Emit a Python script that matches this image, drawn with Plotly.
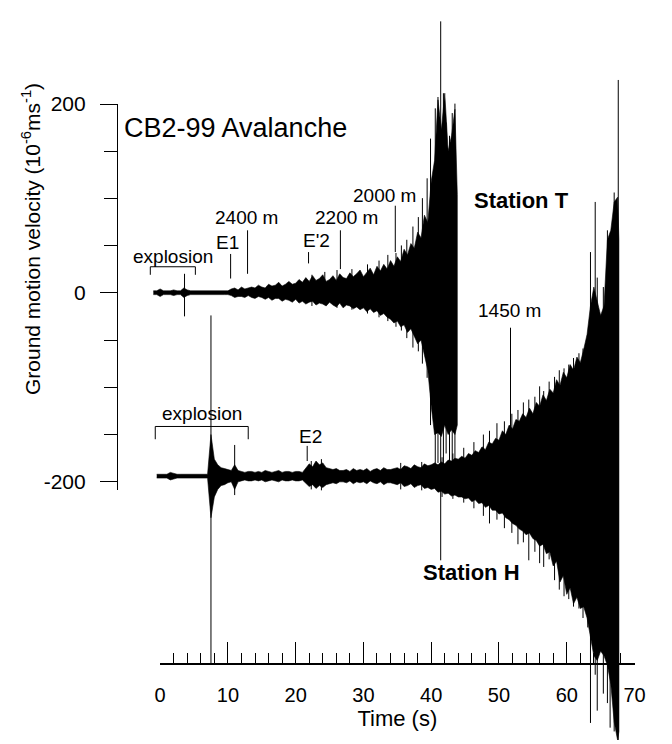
import numpy as np
import plotly.graph_objects as go

# ---------------- data ----------------
STATIONS = ["Station T", "Station H"]
STATION_OFFSETS = [0, -194]          # baseline of each trace, 10^-6 m/s

# Station T envelope (peak up / peak down), 0.5 s samples from -1.0 s to 43.5 s + last sample
T_TIME = np.round(np.arange(-1.0, 43.51, 0.5), 2).tolist() + [43.85]
T_UPPER = [2, 2, 4, 2, 2, 2, 3, 2, 2, 5,
           3, 2, 2, 2, 2, 2, 2, 2, 2, 2,
           2, 2, 2, 4, 5, 3, 6, 4, 5, 6,
           5, 8, 6, 5, 9, 7, 8, 11, 7, 9,
           12, 9, 10, 14, 11, 16, 12, 18, 13, 15,
           19, 12, 14, 18, 13, 20, 16, 15, 21, 17,
           20, 24, 17, 22, 26, 19, 28, 23, 30, 25,
           34, 28, 38, 33, 46, 40, 52, 47, 64, 58,
           82, 74, 118, 140, 204, 172, 211, 150, 166, 194,
           104]
T_LOWER = [-2, -2, -4, -2, -2, -2, -3, -2, -2, -5,
           -3, -2, -2, -2, -2, -2, -2, -2, -2, -2,
           -2, -2, -2, -3, -5, -4, -4, -5, -3, -5,
           -6, -4, -5, -7, -5, -8, -6, -6, -9, -7,
           -8, -10, -7, -11, -9, -12, -10, -9, -13, -11,
           -12, -14, -10, -13, -15, -11, -16, -13, -14, -17,
           -15, -18, -16, -20, -17, -21, -19, -24, -22, -26,
           -28, -32, -30, -36, -34, -42, -38, -46, -54, -50,
           -66, -82, -120, -150, -148, -152, -140, -150, -145, -150,
           -140]

# Station H envelope, 0.5 s samples from -0.5 s to 67.5 s + last sample
H_TIME = np.round(np.arange(-0.5, 67.51, 0.5), 2).tolist() + [67.7]
H_UPPER = [2, 2, 2, 2, 4, 3, 2, 2, 2, 2,
           2, 2, 2, 2, 2, 2, 44, 18, 12, 9,
           8, 7, 6, 12, 6, 5, 4, 5, 5, 4,
           5, 4, 6, 5, 4, 5, 6, 4, 5, 5,
           4, 5, 5, 4, 8, 13, 10, 16, 12, 14,
           9, 8, 7, 8, 6, 6, 7, 5, 8, 6,
           7, 6, 8, 5, 7, 8, 6, 9, 7, 7,
           8, 9, 7, 11, 10, 8, 12, 10, 9, 13,
           11, 12, 14, 12, 15, 13, 17, 16, 19, 18,
           21, 19, 24, 22, 27, 25, 31, 28, 36, 34,
           40, 38, 48, 44, 54, 50, 60, 58, 66, 62,
           72, 66, 78, 74, 86, 80, 92, 88, 102, 96,
           110, 104, 118, 112, 126, 120, 134, 150, 180, 200,
           185, 170, 180, 250, 260, 290, 295,
           250]
H_LOWER = [-2, -2, -2, -2, -4, -3, -2, -2, -2, -2,
           -2, -2, -2, -2, -2, -2, -44, -22, -14, -10,
           -9, -7, -6, -14, -6, -5, -4, -5, -5, -4,
           -5, -4, -6, -5, -4, -5, -6, -4, -5, -5,
           -4, -5, -5, -4, -8, -11, -9, -13, -10, -12,
           -9, -8, -7, -8, -6, -6, -7, -5, -8, -6,
           -7, -6, -8, -5, -7, -8, -6, -9, -7, -7,
           -8, -9, -7, -11, -10, -8, -12, -10, -9, -13,
           -12, -14, -13, -17, -16, -19, -18, -21, -20, -22,
           -22, -24, -23, -27, -25, -29, -28, -33, -31, -36,
           -36, -40, -39, -44, -46, -50, -52, -56, -58, -62,
           -60, -66, -68, -74, -72, -82, -80, -95, -90, -112,
           -105, -125, -118, -135, -128, -140, -138, -150, -170, -190,
           -195, -185, -190, -200, -220, -260, -279,
           -270]

# isolated large excursions (time, peak up, peak down)
T_SPIKE_TIME = [3.6, 22.4, 24.3, 26.1, 28.3, 30.6, 32.3, 33.6, 34.8, 35.6, 36.4, 37.3,
                38.1, 38.7, 39.4, 39.9, 40.6, 41.0, 41.4, 41.8, 42.2, 42.7, 43.1, 43.5]
T_SPIKE_TOP = [20, 19, 22, 24, 25, 30, 34, 40, 42, 50, 56, 70,
               80, 100, 121, 163, 195, 207, 287, 211, 180, 166, 190, 200]
T_SPIKE_BOTTOM = [-25, -14, -12, -16, -18, -22, -26, -30, -36, -40, -48, -58,
                  -62, -75, -90, -140, -182, -180, -283, -182, -170, -183, -178, -180]

H_SPIKE_TIME = [7.5, 11.0, 22.3, 23.8, 35.5, 38.6, 41.6, 43.2, 44.8, 46.3, 47.7, 48.6,
                49.7, 50.8, 51.9, 52.8, 53.6, 54.4, 55.3, 56.0, 56.6, 57.4, 58.2, 58.9,
                59.6, 60.3, 61.0, 61.8, 62.4, 63.1, 63.5, 64.2, 64.5, 65.4, 66.0, 66.4,
                67.0, 67.6]
H_SPIKE_TOP = [170, 33, 16, 18, 14, 15, 20, 24, 30, 36, 44, 48,
               56, 58, 66, 70, 78, 81, 84, 95, 90, 100, 105, 112,
               114, 118, 125, 130, 135, 150, 237, 290, 210, 200, 260, 245,
               300, 419]
H_SPIKE_BOTTOM = [-198, -20, -14, -15, -14, -15, -22, -24, -28, -34, -42, -50,
                  -46, -55, -60, -72, -70, -89, -80, -92, -96, -88, -110, -120,
                  -127, -130, -138, -140, -150, -160, -261, -210, -248, -230, -240, -266,
                  -270, -279]

# event markers (label, time, line top, line bottom) in absolute plot units
MARK_LABELS = ["E1", "2400 m", "E'2", "2200 m", "2000 m", "1450 m", "E2"]
MARK_TIME = [10.4, 12.9, 21.9, 26.6, 34.7, 51.7, 21.7]
MARK_TOP = [41, 66, 43, 66, 92, -37, -162]
MARK_BOTTOM = [15, 20, 31, 25, 43, -175, -178]

# explosion windows
EXPLOSION_START = [-1.45, -0.72]
EXPLOSION_END = [5.2, 13.0]

X_TICKS = [0, 10, 20, 30, 40, 50, 60, 70]
Y_TICKS = [-200, 0, 200]

# ---------------- geometry helpers (pixel -> data) ----------------
W, H = 672, 744
ML = 117
PX_T0, PX_PER_S = 161.0, 6.914
PX_V0, PX_PER_U = 286.5, 0.965


def t_of(px):
    return (px - PX_T0) / PX_PER_S


def v_of(py):
    return (PX_V0 - py) / PX_PER_U


FONT = "Liberation Sans, Arial, Helvetica, sans-serif"

fig = go.Figure()


def add_envelope(times, up, low, off):
    assert len(times) == len(up) == len(low)
    xs = list(times) + list(times)[::-1]
    ys = [off + u for u in up] + [off + l for l in low][::-1]
    fig.add_trace(go.Scatter(x=xs, y=ys, mode="lines", fill="toself",
                             fillcolor="black", line=dict(color="black", width=0.6),
                             hoverinfo="skip", showlegend=False))


def add_spikes(times, tops, bottoms, off):
    assert len(times) == len(tops) == len(bottoms)
    xs, ys = [], []
    for t, a, b in zip(times, tops, bottoms):
        xs += [t, t, None]
        ys += [off + a, off + b, None]
    fig.add_trace(go.Scatter(x=xs, y=ys, mode="lines",
                             line=dict(color="black", width=1),
                             hoverinfo="skip", showlegend=False))


add_envelope(T_TIME, T_UPPER, T_LOWER, STATION_OFFSETS[0])
add_envelope(H_TIME, H_UPPER, H_LOWER, STATION_OFFSETS[1])
add_spikes(T_SPIKE_TIME, T_SPIKE_TOP, T_SPIKE_BOTTOM, STATION_OFFSETS[0])
add_spikes(H_SPIKE_TIME, H_SPIKE_TOP, H_SPIKE_BOTTOM, STATION_OFFSETS[1])

# marker lines
mx, my = [], []
for t, a, b in zip(MARK_TIME, MARK_TOP, MARK_BOTTOM):
    mx += [t, t, None]
    my += [a, b, None]
fig.add_trace(go.Scatter(x=mx, y=my, mode="lines", line=dict(color="black", width=1),
                         hoverinfo="skip", showlegend=False))

# explosion brackets
bracket_y = [v_of(260), v_of(423)]
bracket_drop = [8.5, 13.5]
bx, by = [], []
for s, e, yb, d in zip(EXPLOSION_START, EXPLOSION_END, bracket_y, bracket_drop):
    bx += [s, s, e, e, None]
    by += [yb - d, yb, yb, yb - d, None]
fig.add_trace(go.Scatter(x=bx, y=by, mode="lines", line=dict(color="black", width=1),
                         hoverinfo="skip", showlegend=False))

# dummy trace to create the display-axes subplot
fig.add_trace(go.Scatter(x=[None], y=[None], xaxis="x2", yaxis="y2",
                         showlegend=False, hoverinfo="skip"))

# ---------------- text ----------------
ann = []


def label(text, px, py, size=19, bold=False, xanchor="center"):
    ann.append(dict(text=("<b>%s</b>" % text) if bold else text,
                    x=t_of(px), y=v_of(py), xref="x", yref="y",
                    xanchor=xanchor, yanchor="middle", showarrow=False,
                    font=dict(family=FONT, size=size, color="black")))


label("CB2-99 Avalanche", 122, 118, size=27, xanchor="left")
label("explosion", 174.5, 250)
label(MARK_LABELS[0], 230, 235)
label(MARK_LABELS[1], 249, 210)
label(MARK_LABELS[2], 321, 233)
label(MARK_LABELS[3], 351, 210)
label(MARK_LABELS[4], 390, 187)
label(MARK_LABELS[5], 517, 305)
label("explosion", 204, 410)
label(MARK_LABELS[6], 314, 433)
label(STATIONS[0], 530, 192, size=22, bold=True)
label(STATIONS[1], 479, 572, size=22, bold=True)

ann.append(dict(text="Ground motion velocity (10<sup>-6</sup>ms<sup>-1</sup>)",
                x=(30 - ML) / (W - ML), y=v_of(232), xref="paper", yref="y",
                textangle=-90, showarrow=False, xanchor="center", yanchor="middle",
                font=dict(family=FONT, size=21, color="black")))

fig.update_layout(
    width=W, height=H,
    margin=dict(l=ML, r=0, t=0, b=0),
    paper_bgcolor="white", plot_bgcolor="rgba(0,0,0,0)",
    showlegend=False,
    annotations=ann,
    xaxis=dict(visible=False, range=[t_of(ML), t_of(W)], domain=[0, 1]),
    yaxis=dict(visible=False, range=[v_of(H), v_of(0)], domain=[0, 1]),
    xaxis2=dict(
        domain=[(PX_T0 - ML) / (W - ML), (645 - ML) / (W - ML)],
        range=[0, 70], anchor="free", position=(H - 665) / H,
        showline=True, linecolor="black", linewidth=1.5,
        ticks="inside", ticklen=21, tickwidth=1.3, tickcolor="black",
        tickvals=X_TICKS, ticktext=[str(v) for v in X_TICKS],
        minor=dict(ticks="inside", ticklen=10, tickwidth=1, tickcolor="black", dtick=2, tick0=0),
        showgrid=False, zeroline=False,
        tickfont=dict(family=FONT, size=20, color="black"),
        ticklabelstandoff=14,
        title=dict(text="Time (s)", font=dict(family=FONT, size=22, color="black"), standoff=4),
    ),
    yaxis2=dict(
        domain=[(H - 488) / H, (H - 94) / H],
        range=[v_of(488), 200], anchor="free", position=0, side="left",
        showline=True, linecolor="black", linewidth=1.2,
        ticks="outside", ticklen=17, tickwidth=1.3, tickcolor="black",
        tickvals=Y_TICKS, ticktext=[str(v) for v in Y_TICKS],
        minor=dict(ticks="outside", ticklen=13, tickwidth=1, tickcolor="black", dtick=50, tick0=0),
        showgrid=False, zeroline=False,
        tickfont=dict(family=FONT, size=21, color="black"),
        ticklabelstandoff=10,
    ),
)

fig.write_html("out.html")
